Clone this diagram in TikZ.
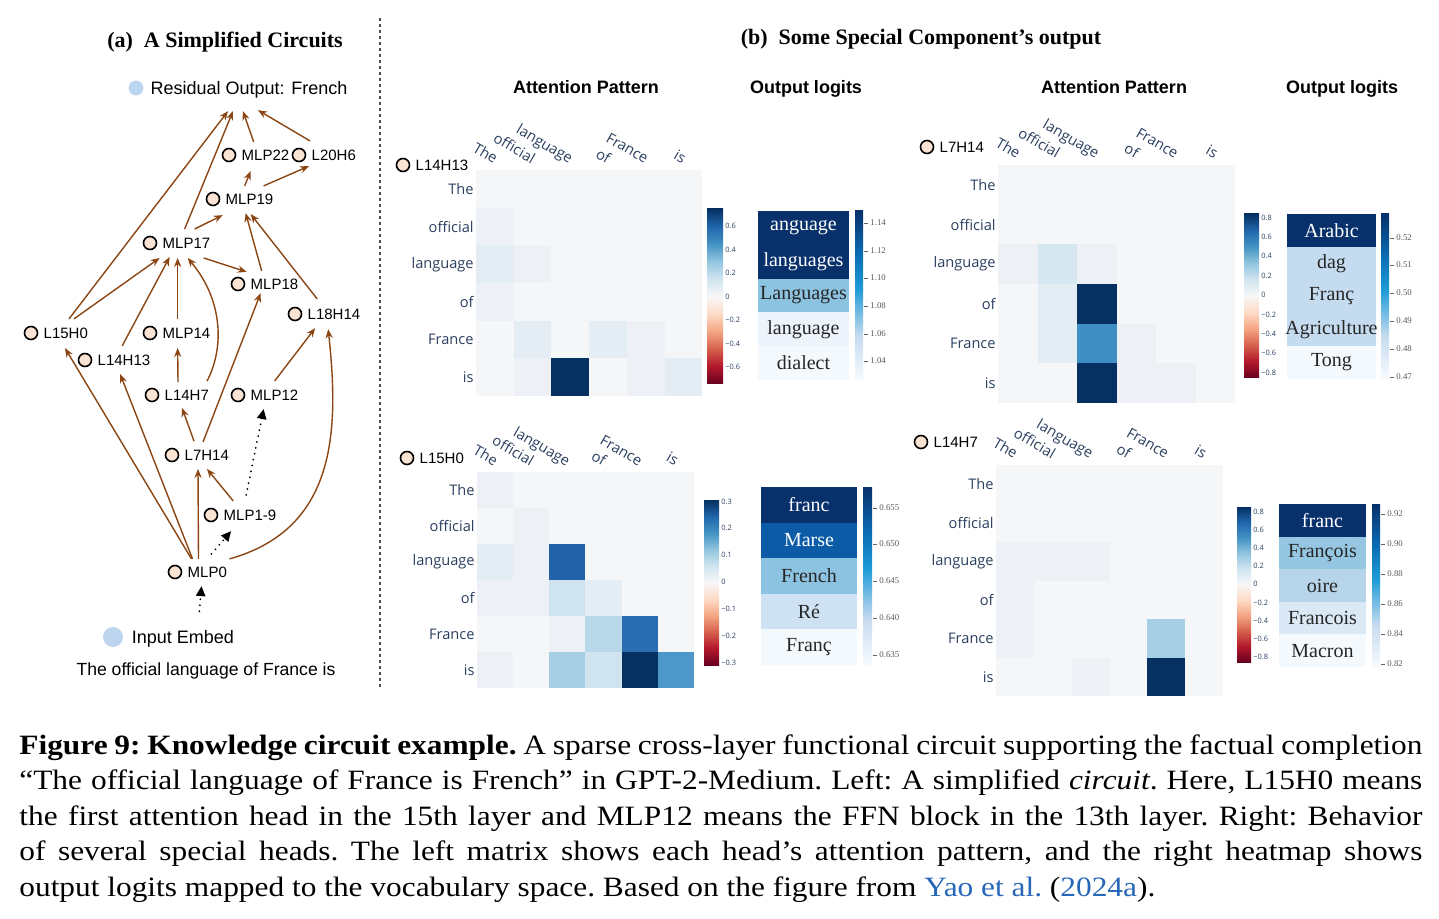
\documentclass[tikz,border=0pt]{standalone}
\usepackage{fontspec}
\setmainfont{Liberation Serif}
\setsansfont{Liberation Sans}
\newfontfamily\plotlyfont{Open Sans}
\newfontfamily\capfont[FakeStretch=1.12]{Liberation Serif}
\usepackage{xcolor}
\usetikzlibrary{arrows.meta,calc,fit,positioning}
\definecolor{peach}{HTML}{FBE3D4}
\definecolor{brownedge}{HTML}{8B4513}
\definecolor{bluedot}{HTML}{BCD4EE}
\definecolor{plotly}{HTML}{2A3F5F}
\definecolor{citeblue}{HTML}{2767B8}
% attention cells
\definecolor{hmbg}{HTML}{F4F6F8}
\definecolor{hmA}{HTML}{EDF1F5}
\definecolor{hmB}{HTML}{E4EDF4}
\definecolor{hmC}{HTML}{D6E7F1}
\definecolor{hmD}{HTML}{D0E4EF}
\definecolor{hmE}{HTML}{B8D8EA}
\definecolor{hmF}{HTML}{A6CEE4}
\definecolor{hmG}{HTML}{4D98C8}
\definecolor{hmH}{HTML}{3F8FC5}
\definecolor{hmI}{HTML}{2A6DB1}
\definecolor{hmJ}{HTML}{2262A9}
\definecolor{hmK}{HTML}{053061}
% logit cells
\definecolor{lgK}{HTML}{08306B}
\definecolor{lgM}{HTML}{0B5BA6}
\definecolor{lgL}{HTML}{8CC3E0}
\definecolor{lgF}{HTML}{95C6E2}
\definecolor{lgO}{HTML}{B7D5EA}
\definecolor{lgR}{HTML}{CFE2F3}
\definecolor{lgC}{HTML}{C5DCF0}
\definecolor{lgD}{HTML}{DBE9F6}
\definecolor{lgE}{HTML}{EDF4FB}
\definecolor{lgW}{HTML}{F4F9FE}
% colour bars
\definecolor{rdA}{HTML}{67001F}
\definecolor{rdB}{HTML}{B2182B}
\definecolor{rdC}{HTML}{D6604D}
\definecolor{rdD}{HTML}{F4A582}
\definecolor{rdE}{HTML}{FDDBC7}
\definecolor{rdF}{HTML}{F7F7F7}
\definecolor{buE}{HTML}{D1E5F0}
\definecolor{buD}{HTML}{92C5DE}
\definecolor{buC}{HTML}{4393C3}
\definecolor{buB}{HTML}{2166AC}
\definecolor{buA}{HTML}{053061}
\definecolor{blA}{HTML}{F7FBFF}
\definecolor{blB}{HTML}{C6DBEF}
\definecolor{blC}{HTML}{1F9BD7}
\definecolor{blD}{HTML}{0A6DB5}
\definecolor{blE}{HTML}{08306B}
\pgfdeclareverticalshading{rdbu}{100bp}{color(0bp)=(rdA); color(25bp)=(rdA);
  color(30bp)=(rdB); color(35bp)=(rdC); color(40bp)=(rdD); color(45bp)=(rdE);
  color(50bp)=(rdF); color(55bp)=(buE); color(60bp)=(buD); color(65bp)=(buC);
  color(70bp)=(buB); color(75bp)=(buA); color(100bp)=(buA)}
\pgfdeclareverticalshading{blues}{100bp}{color(0bp)=(blA); color(25bp)=(blA);
  color(38bp)=(blB); color(52bp)=(blC); color(62bp)=(blD); color(75bp)=(blE);
  color(100bp)=(blE)}

\begin{document}
\begin{tikzpicture}[x=0.5pt,y=-0.5pt,
  dot/.style={circle,draw=black,line width=0.8pt,fill=peach,minimum size=6.5pt,inner sep=0pt},
  bdot/.style={circle,fill=bluedot,inner sep=0pt},
  lab/.style={font=\sffamily\fontsize{7.5}{9}\selectfont,inner sep=1pt},
  biglab/.style={font=\sffamily\fontsize{9}{11}\selectfont,inner sep=1pt},
  grp/.style={inner sep=1pt},
  edge/.style={draw=brownedge,line width=0.7pt,-{Stealth[length=4.5pt,width=3.6pt]},
               brownedge},
  dotted edge/.style={line width=1pt,dash pattern=on 0pt off 3pt,line cap=round,
               -{Triangle[length=5pt,width=4.6pt]}},
  divider/.style={black!70,line width=0.6pt,dash pattern=on 1.5pt off 1.5pt},
  title/.style={font=\bfseries\fontsize{11}{13}\selectfont},
  head/.style={font=\sffamily\bfseries\fontsize{9}{11}\selectfont,anchor=base},
  rowlab/.style={font=\plotlyfont\fontsize{7.3}{8}\selectfont,text=plotly,anchor=east,inner sep=1pt},
  collab/.style={font=\plotlyfont\fontsize{7.3}{8}\selectfont,text=plotly,rotate=-30,
                 anchor=base east,inner sep=0.5pt},
  logit/.style={font=\fontsize{10}{12}\selectfont,text=black!85,inner sep=0pt},
  rbtick/.style={font=\plotlyfont\fontsize{3.7}{4}\selectfont,text=plotly,anchor=west,inner sep=0.5pt},
  bltick/.style={font=\fontsize{4.4}{5}\selectfont,text=black!65,anchor=west,inner sep=0.5pt},
  caption/.style={text width=701.5pt,align=justify,inner sep=0pt,
                  font=\capfont\fontsize{14}{17.75}\selectfont\frenchspacing}
]
\useasboundingbox (0,0) rectangle (1439,919);

%% (a) the circuit
\node[title] (ta) at (225,42) {(a)\enspace A Simplified Circuits};
\draw[divider] (380,18) -- (380,690);

\node[bdot,minimum size=7.5pt] (c-res) at (136,88) {};
\node[biglab,right=2.2pt of c-res,yshift=-1pt] (t-res) {Residual Output: French};
\node[grp,fit=(c-res)(t-res)] (res) {};

\foreach \id/\x/\y/\txt in {mlp22/229/155/MLP22, l20h6/299/155/L20H6,
    mlp19/213/199/MLP19, mlp17/150/243/MLP17, mlp18/238/284/MLP18,
    l18h14/295/314/L18H14, l15h0/31/333/L15H0, mlp14/150/333/MLP14,
    l14h13/85/360/L14H13, l14h7/152/395/L14H7, mlp12/238/395/MLP12,
    l7h14/172/455/L7H14, mlp1to9/211/515/MLP1-9, mlp0/175/572/MLP0}{
  \node[dot] (c-\id) at (\x,\y) {};
  \node[lab,right=1.5pt of c-\id] (t-\id) {\txt};
  \node[grp,fit=(c-\id)(t-\id)] (\id) {};
}

\node[bdot,minimum size=10pt] (c-emb) at (113,637) {};
\node[biglab,right=3pt of c-emb,yshift=-1pt] (t-emb) {Input Embed};
\node[grp,fit=(c-emb)(t-emb)] (emb) {};
\node[biglab,font=\sffamily\fontsize{8.8}{11}\selectfont] (sent) at (206,671)
  {The official language of France is};

% into the residual output
\draw[edge] ($(l15h0.north)+(12,-4)$) -- ($(res.south)+(-11,8)$);
\draw[edge] ($(mlp17.north)+(7,-4)$) -- ($(res.south)+(-6,8)$);
\draw[edge] ($(mlp22.north)+(-3,-3)$) -- ($(res.south)+(4,8)$);
\draw[edge] ($(l20h6.north)+(-15,-4)$) -- ($(res.south)+(19,7)$);
% upper layers
\draw[edge] ($(mlp19.north)+(4,-3)$) -- ($(mlp22.south)+(-6,6)$);
\draw[edge] ($(mlp19.north)+(23,-3)$) -- ($(l20h6.south)+(-16,1)$);
\draw[edge] ($(mlp17.north)+(17,-4)$) -- ($(mlp19.south)+(-18,6)$);
\draw[edge] ($(mlp17.south)+(26,5)$) -- ($(mlp18.north)+(-19,-2)$);
\draw[edge] ($(mlp18.north)+(-4,-3)$) -- ($(mlp19.south)+(5,4)$);
\draw[edge] ($(l18h14.north)+(-8,-5)$) -- ($(mlp19.south)+(10,5)$);
% into MLP17
\draw[edge] ($(l15h0.north)+(17,-4)$) -- ($(mlp17.south)+(-18,5)$);
\draw[edge] ($(l14h13.north)+(7,-4)$) -- ($(mlp17.south)+(-8,4)$);
\draw[edge] ($(mlp14.north)+(0,-4)$) -- ($(mlp17.south)+(0,5)$);
\draw[edge] ($(l14h7.north)+(29,-4)$) .. controls +(17,-32) and +(36,43) .. ($(mlp17.south)+(10,5)$);
% middle layers
\draw[edge] ($(l7h14.north)+(5,-3)$) -- ($(mlp18.south)+(-5,-1)$);
\draw[edge] ($(mlp12.north)+(9,-4)$) -- ($(l18h14.south)+(-10,4)$);
\draw[edge] ($(l7h14.north)+(-4,-4)$) -- ($(l14h7.south)+(4,3)$);
\draw[edge] ($(l14h7.north)+(0,-3)$) -- ($(mlp14.south)+(0,5)$);
% from MLP0
\draw[edge] ($(mlp0.north)+(31,-3)$) .. controls +(107,-30) and +(11,102) .. ($(l18h14.south)+(3,5)$);
\draw[edge] ($(mlp0.north)+(-7,-3)$) -- ($(l15h0.south)+(8,5)$);
\draw[edge] ($(mlp0.north)+(-6,-3)$) -- ($(l14h13.south)+(5,4)$);
\draw[edge] ($(mlp0.north)+(0,-3)$) -- ($(l7h14.south)+(0,4)$);
\draw[edge] ($(mlp1to9.north)+(-8,-4)$) -- ($(l7h14.south)+(9,4)$);
% dotted skips
\draw[dotted edge] ($(mlp0.north)+(13,-8)$) -- ($(mlp1to9.south)+(-10,6)$);
\draw[dotted edge] ($(mlp1to9.north)+(5,-10)$) -- ($(mlp12.south)+(-2,4)$);
\draw[dotted edge] ($(emb.north)+(30,-13)$) -- ($(mlp0.south)+(3,4)$);

%% (b) component outputs
\node[title] (tb) at (921,39) {(b)\enspace Some Special Component’s output};
\node[head] (h1) at (586,94) {Attention Pattern};
\node[head] (h2) at (806,94) {Output logits};
\node[head] (h3) at (1114,94) {Attention Pattern};
\node[head] (h4) at (1342,94) {Output logits};

% L14H13
\node[dot] (c-p1) at (403,165) {};
\node[lab,right=1.5pt of c-p1] (t-p1) {L14H13};
\begin{scope}[shift={(476,170)},x=18.85pt,y=-18.85pt]
  \fill[hmbg] (0,0) rectangle (6,6);
  \foreach \c/\r/\f in {1/2/hmA,1/3/hmB,2/3/hmA,1/4/hmA,2/5/hmB,4/5/hmB,5/5/hmA,
                        2/6/hmA,3/6/hmK,5/6/hmA,6/6/hmB}
    \fill[\f] (\c-1,\r-1) rectangle (\c,\r);
  \foreach \w [count=\i] in {The,official,language,of,France,is}{
    \node[rowlab] (p1-r\i) at (0,\i-0.5) {\w};
    \node[collab] (p1-c\i) at (\i-0.5,-0.14) {\w};
  }
\end{scope}
\shade[shading=rdbu] (707,209) rectangle (723,384);
\foreach \v/\y in {0.6/226,0.4/250,0.2/273,0/297,−0.2/320,−0.4/344,−0.6/367}
  \node[rbtick] at (724,\y) {\v};
\foreach \w/\f/\t [count=\i from 0] in {anguage/lgK/white,languages/lgK/white,
    Languages/lgL/black!85,language/lgE/black!85,dialect/lgW/black!85}{
  \fill[\f] (758,{211+33.8*\i}) rectangle (849,{211+33.8*(\i+1)});
  \node[logit,text=\t] (p1-l\i) at (803.5,{211+33.8*\i+16.9}) {\w};
}
\shade[shading=blues] (855,211) rectangle (863,380);
\foreach \v/\y in {1.14/223,1.12/251,1.10/278,1.08/306,1.06/334,1.04/361}{
  \draw[black!60,line width=0.3pt] (864,\y) -- (868,\y);
  \node[bltick] at (869,\y) {\v};
}

% L7H14
\node[dot] (c-p2) at (927,147) {};
\node[lab,right=1.5pt of c-p2] (t-p2) {L7H14};
\begin{scope}[shift={(998,165)},x=19.75pt,y=-19.83pt]
  \fill[hmbg] (0,0) rectangle (6,6);
  \foreach \c/\r/\f in {1/3/hmA,2/3/hmC,3/3/hmA,2/4/hmB,3/4/hmK,2/5/hmB,3/5/hmH,
                        4/5/hmA,3/6/hmK,4/6/hmA,5/6/hmA}
    \fill[\f] (\c-1,\r-1) rectangle (\c,\r);
  \foreach \w [count=\i] in {The,official,language,of,France,is}{
    \node[rowlab] (p2-r\i) at (0,\i-0.5) {\w};
    \node[collab] (p2-c\i) at (\i-0.5,-0.14) {\w};
  }
\end{scope}
\shade[shading=rdbu] (1244,214) rectangle (1259,378);
\foreach \v/\y in {0.8/218,0.6/237,0.4/256,0.2/276,0/295,−0.2/315,−0.4/334,−0.6/353,−0.8/373}
  \node[rbtick] at (1260,\y) {\v};
\foreach \w/\f/\t [count=\i from 0] in {Arabic/lgK/white,dag/lgC/black!85,
    Franç/lgC/black!85,Agriculture/lgC/black!85,Tong/lgW/black!85}{
  \fill[\f] (1287,{214+33*\i}) rectangle (1376,{214+33*(\i+1)});
  \node[logit,text=\t] (p2-l\i) at (1331.5,{214+33*\i+16.5}) {\w};
}
\shade[shading=blues] (1381,214) rectangle (1389,379);
\foreach \v/\y in {0.52/238,0.51/265,0.50/293,0.49/321,0.48/349,0.47/377}{
  \draw[black!60,line width=0.3pt] (1390,\y) -- (1394,\y);
  \node[bltick] at (1395,\y) {\v};
}

% L15H0
\node[dot] (c-p3) at (407,458) {};
\node[lab,right=1.5pt of c-p3] (t-p3) {L15H0};
\begin{scope}[shift={(477,472)},x=18.08pt,y=-18pt]
  \fill[hmbg] (0,0) rectangle (6,6);
  \foreach \c/\r/\f in {1/1/hmA,2/2/hmA,1/3/hmB,2/3/hmA,3/3/hmJ,1/4/hmA,2/4/hmA,
                        3/4/hmD,4/4/hmB,3/5/hmA,4/5/hmE,5/5/hmI,1/6/hmA,3/6/hmF,
                        4/6/hmD,5/6/hmK,6/6/hmG}
    \fill[\f] (\c-1,\r-1) rectangle (\c,\r);
  \foreach \w [count=\i] in {The,official,language,of,France,is}{
    \node[rowlab] (p3-r\i) at (0,\i-0.5) {\w};
    \node[collab] (p3-c\i) at (\i-0.5,-0.14) {\w};
  }
\end{scope}
\shade[shading=rdbu] (704,500) rectangle (719,665);
\foreach \v/\y in {0.3/502,0.2/528,0.1/555,0/582,−0.1/609,−0.2/636,−0.3/663}
  \node[rbtick] at (720,\y) {\v};
\foreach \w/\f/\t [count=\i from 0] in {franc/lgK/white,Marse/lgM/white,
    French/lgL/black!85,Ré/lgR/black!85,Franç/lgW/black!85}{
  \fill[\f] (761,{487+35.6*\i}) rectangle (857,{487+35.6*(\i+1)});
  \node[logit,text=\t] (p3-l\i) at (809,{487+35.6*\i+17.8}) {\w};
}
\shade[shading=blues] (863,487) rectangle (872,665);
\foreach \v/\y in {0.655/508,0.650/544,0.645/581,0.640/618,0.635/655}{
  \draw[black!60,line width=0.3pt] (873,\y) -- (877,\y);
  \node[bltick] at (878,\y) {\v};
}

% L14H7
\node[dot] (c-p4) at (921,442) {};
\node[lab,right=1.5pt of c-p4] (t-p4) {L14H7};
\begin{scope}[shift={(996,465)},x=18.92pt,y=-19.25pt]
  \fill[hmbg] (0,0) rectangle (6,6);
  \foreach \c/\r/\f in {1/3/hmA,2/3/hmA,3/3/hmA,1/4/hmA,1/5/hmA,5/5/hmF,3/6/hmA,5/6/hmK}
    \fill[\f] (\c-1,\r-1) rectangle (\c,\r);
  \foreach \w [count=\i] in {The,official,language,of,France,is}{
    \node[rowlab] (p4-r\i) at (0,\i-0.5) {\w};
    \node[collab] (p4-c\i) at (\i-0.5,-0.14) {\w};
  }
\end{scope}
\shade[shading=rdbu] (1237,507) rectangle (1251,662);
\foreach \v/\y in {0.8/512,0.6/530,0.4/548,0.2/566,0/584,−0.2/603,−0.4/621,−0.6/639,−0.8/657}
  \node[rbtick] at (1252,\y) {\v};
\foreach \w/\f/\t [count=\i from 0] in {franc/lgK/white,François/lgF/black!85,
    oire/lgO/black!85,Francois/lgD/black!85,Macron/lgW/black!85}{
  \fill[\f] (1279,{504+32.6*\i}) rectangle (1366,{504+32.6*(\i+1)});
  \node[logit,text=\t] (p4-l\i) at (1322.5,{504+32.6*\i+16.3}) {\w};
}
\shade[shading=blues] (1372,504) rectangle (1380,667);
\foreach \v/\y in {0.92/514,0.90/544,0.88/574,0.86/604,0.84/634,0.82/664}{
  \draw[black!60,line width=0.3pt] (1381,\y) -- (1385,\y);
  \node[bltick] at (1386,\y) {\v};
}

%% caption
\node[caption,anchor=north west] (cap) at (19,734) {%
  {\bfseries Figure 9: Knowledge circuit example.} A sparse cross-layer functional circuit supporting the factual completion\linebreak
  “The official language of France is French” in GPT-2-Medium. Left: A simplified \textit{circuit}. Here, L15H0 means\linebreak
  the first attention head in the 15th layer and MLP12 means the FFN block in the 13th layer. Right: Behavior\linebreak
  of several special heads. The left matrix shows each head’s attention pattern, and the right heatmap shows\linebreak
  output logits mapped to the vocabulary space. Based on the figure from \textcolor{citeblue}{Yao et al.} (\textcolor{citeblue}{2024a}).};
\end{tikzpicture}
\end{document}
